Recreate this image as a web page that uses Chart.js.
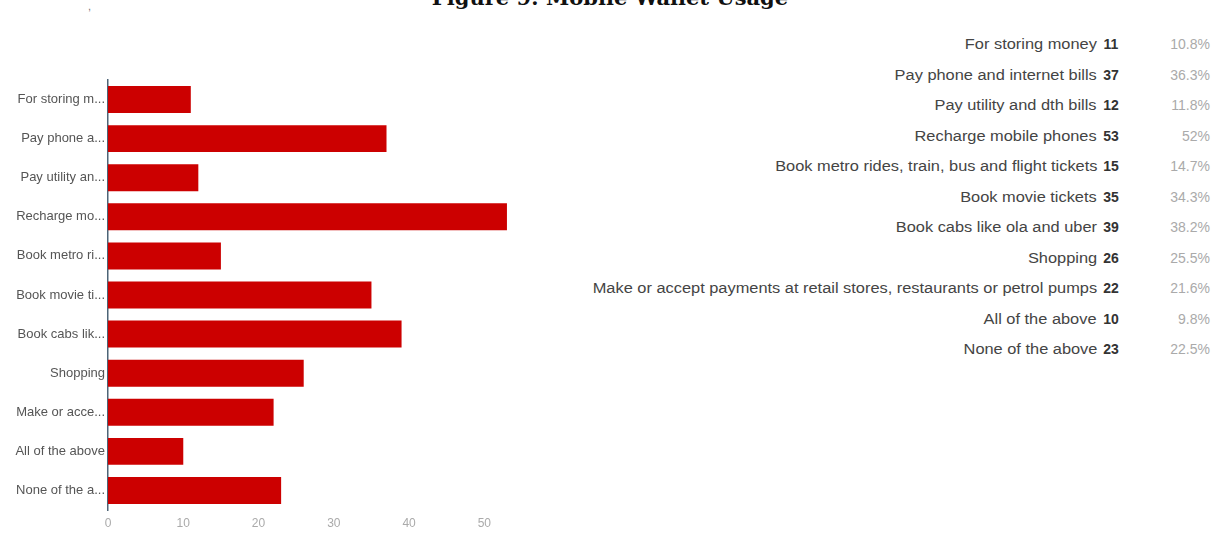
<!DOCTYPE html>
<html>
<head>
<meta charset="utf-8">
<script src="https://cdn.jsdelivr.net/npm/chart.js@4"></script>
<style>
  body { margin: 0; background: #fff; width: 1215px; height: 537px; overflow: hidden; position: relative; }
  #title { position: absolute; left: 0; width: 1220px; top: -13px; text-align: center;
           font: bold 21px "DejaVu Serif", serif; line-height: 21px; color: #111; }
  #tick { position: absolute; left: 88px; top: 0px; font: 11px "Liberation Sans", sans-serif; color: #777; }
  #chartBox { position: absolute; left: 0; top: 60px; width: 530px; height: 477px; }
  #table { position: absolute; left: 560px; top: 29px; width: 655px;
           font-family: "Liberation Sans", Arial, sans-serif; font-size: 14px; }
  .row { position: absolute; left: 0; width: 655px; height: 30px; line-height: 30px; }
  .lbl { position: absolute; right: 118px; color: #444; white-space: nowrap;
         transform: scaleX(1.17); transform-origin: right center; }
  .cnt { position: absolute; left: 538px; width: 26px; text-align: center; font-weight: bold; color: #333; }
  .pct { position: absolute; right: 5px; color: #aaa; }
</style>
</head>
<body>
<div id="title">Figure 9: Mobile Wallet Usage</div>
<div id="tick">,</div>
<div id="chartBox"><canvas id="walletChart"></canvas></div>
<div id="table"></div>
<script>
// survey answers (full text for the table, cut text as the chart shows it)
const categories = [
    "For storing money",
    "Pay phone and internet bills",
    "Pay utility and dth bills",
    "Recharge mobile phones",
    "Book metro rides, train, bus and flight tickets",
    "Book movie tickets",
    "Book cabs like ola and uber",
    "Shopping",
    "Make or accept payments at retail stores, restaurants or petrol pumps",
    "All of the above",
    "None of the above"
];
const shortLabels = [
    "For storing m...", "Pay phone a...", "Pay utility an...", "Recharge mo...",
    "Book metro ri...", "Book movie ti...", "Book cabs lik...", "Shopping",
    "Make or acce...", "All of the above", "None of the a..."
];
const counts = [11, 37, 12, 53, 15, 35, 39, 26, 22, 10, 23];
const percents = ["10.8%", "36.3%", "11.8%", "52%", "14.7%", "34.3%", "38.2%", "25.5%", "21.6%", "9.8%", "22.5%"];
const xTicks = [0, 10, 20, 30, 40, 50];

// table on the right
let html = "";
categories.forEach((cat, i) => {
    html += `<div class="row" style="top:${i * 30.5}px">
        <span class="lbl">${cat}</span>
        <span class="cnt">${counts[i]}</span>
        <span class="pct">${percents[i]}</span>
    </div>`;
});
document.getElementById("table").innerHTML = html;

const ctx = document.getElementById("walletChart").getContext("2d");
new Chart(ctx, {
    type: "bar",
    data: {
        labels: shortLabels,
        datasets: [{
            data: counts,
            backgroundColor: "#cc0000",
            barPercentage: 0.69,
            categoryPercentage: 1.0
        }]
    },
    options: {
        indexAxis: "y",
        responsive: true,
        maintainAspectRatio: false,
        animation: false,
        layout: { padding: { top: 20, right: 8, bottom: 0, left: 0 } },
        plugins: { legend: { display: false }, tooltip: { enabled: false } },
        scales: {
            x: {
                min: 0,
                max: 55,
                afterBuildTicks: scale => { scale.ticks = xTicks.map(v => ({ value: v })); },
                afterFit: scale => { scale.height = 27; },
                grid: { display: false, drawTicks: false },
                border: { display: false },
                ticks: { color: "#aaa", padding: 6, font: { size: 12, family: "Liberation Sans" } }
            },
            y: {
                afterFit: scale => { scale.width = 108; },
                grid: { display: false, drawTicks: false },
                border: { display: true, color: "#4d6477", width: 1.5 },
                ticks: { color: "#555", padding: 3, font: { size: 13, family: "Liberation Sans Narrow, Liberation Sans" } }
            }
        }
    }
});
</script>
</body>
</html>
